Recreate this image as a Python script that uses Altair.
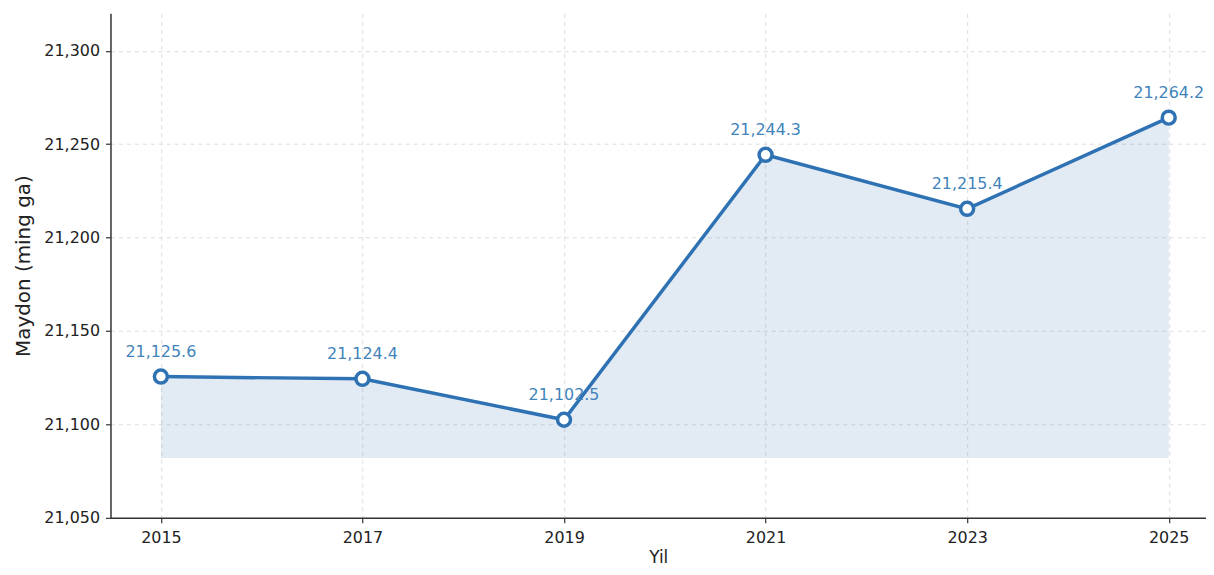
import altair as alt
import pandas as pd

years = [2015, 2017, 2019, 2021, 2023, 2025]
values = [21125.6, 21124.4, 21102.5, 21244.3, 21215.4, 21264.2]
labels = ["21,125.6", "21,124.4", "21,102.5", "21,244.3", "21,215.4", "21,264.2"]
area_base = 21082
y_ticks = [21050, 21100, 21150, 21200, 21250, 21300]

df = pd.DataFrame({"year": years, "val": values, "label": labels})

FONT = "DejaVu Sans"
LINE = "#2f72b4"

x = alt.X("year:Q",
          scale=alt.Scale(domain=[2014.5, 2025.37], nice=False, zero=False),
          axis=alt.Axis(values=years, format="d", title="Yil", grid=True,
                        gridDash=[4, 4], gridColor="#d4d4d4", gridWidth=0.8,
                        labelFontSize=16, titleFontSize=17, labelPadding=7,
                        titlePadding=4, tickSize=5, tickWidth=1.2,
                        labelColor="#222", titleColor="#222",
                        domainColor="#333", domainWidth=1.5, tickColor="#333",
                        labelFont=FONT, titleFont=FONT,
                        titleFontWeight="normal"))
y = alt.Y("val:Q",
          scale=alt.Scale(domain=[21050, 21320], nice=False, zero=False),
          axis=alt.Axis(values=y_ticks, format=",d", title="Maydon (ming ga)",
                        grid=True, gridDash=[4, 4], gridColor="#d4d4d4",
                        gridWidth=0.8, labelFontSize=16, titleFontSize=20,
                        labelPadding=6, titlePadding=10, tickSize=5,
                        tickWidth=1.2, labelColor="#222", titleColor="#222",
                        domainColor="#333", domainWidth=1.5, tickColor="#333",
                        labelFont=FONT, titleFont=FONT,
                        titleFontWeight="normal"))

base = alt.Chart(df)

area = base.mark_area(color="#3a78b8", opacity=0.15).encode(
    x=x, y=y, y2=alt.datum(area_base))
line = base.mark_line(color=LINE, strokeWidth=3.5).encode(x=x, y=y)
pts = base.mark_point(shape="circle", size=170, filled=True, fill="white",
                      stroke=LINE, strokeWidth=3.5, opacity=1).encode(x=x, y=y)
txt = base.mark_text(dy=-25, fontSize=16, color="#3f84ba", font=FONT).encode(
    x=x, y=y, text="label:N")

chart = (area + line + pts + txt).properties(
    width=1101, height=507,
    background="white",
    autosize=alt.AutoSizeParams(type="none"),
    padding={"left": 103, "top": 4, "right": 0, "bottom": 48},
).configure_view(stroke=None)

chart.save("out.html", embed_options={"renderer": "svg", "actions": False})
